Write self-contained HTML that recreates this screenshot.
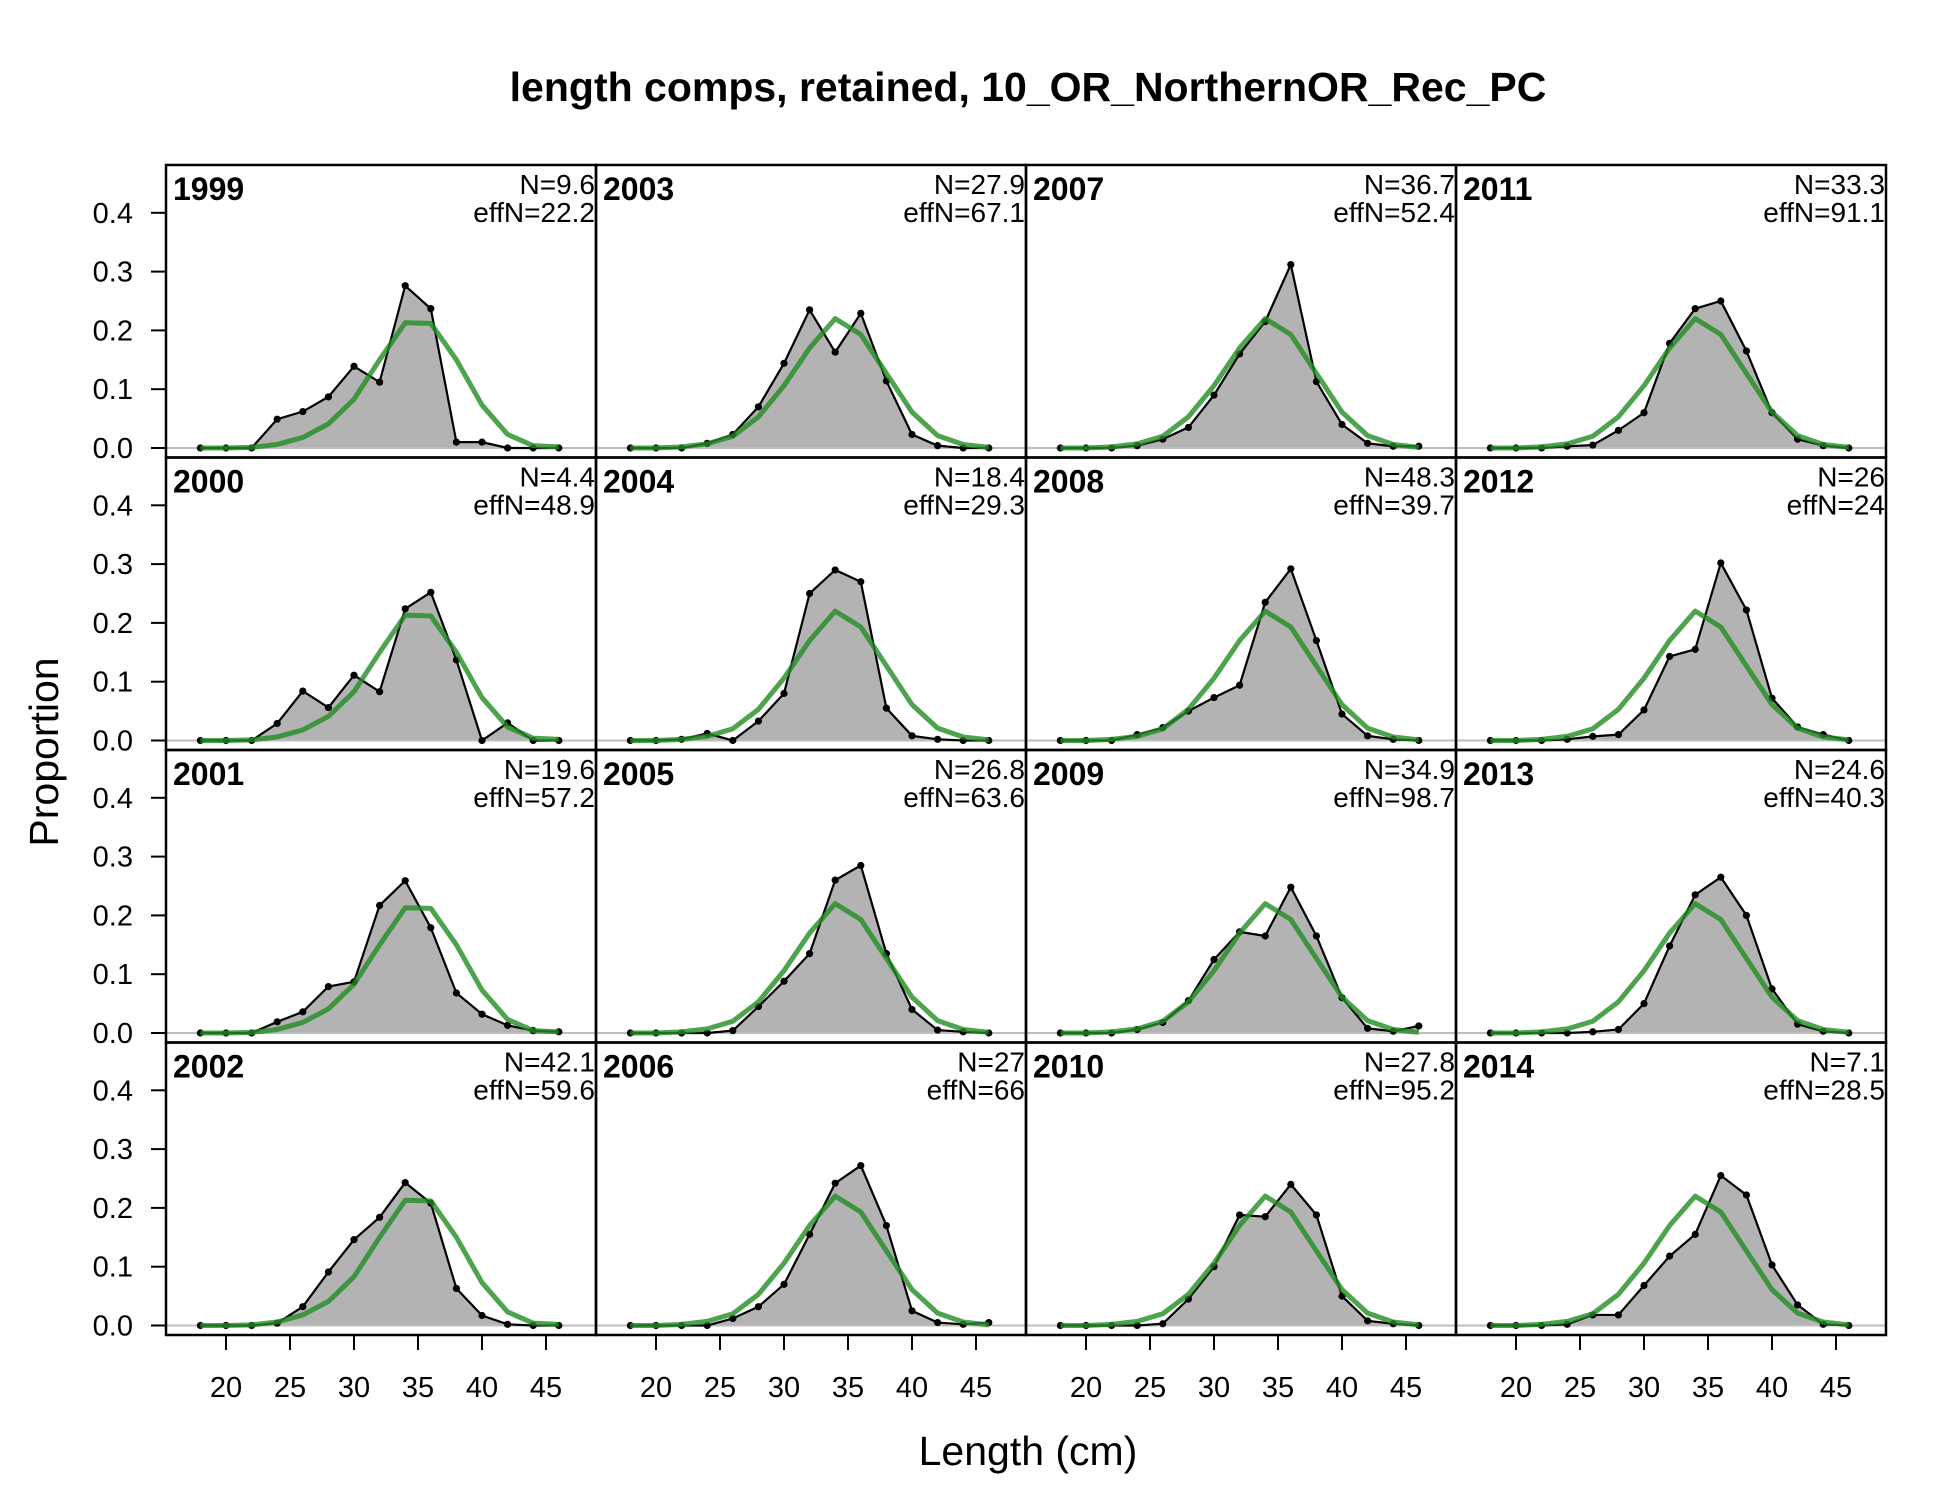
<!DOCTYPE html>
<html><head><meta charset="utf-8"><style>
body{margin:0;background:#fff}
svg text{font-family:"Liberation Sans",Arial,sans-serif}
</style></head><body>
<svg id="chart" width="1950" height="1500" viewBox="0 0 1950 1500" xmlns="http://www.w3.org/2000/svg">
<rect width="1950" height="1500" fill="#fff"/>
<text x="1028" y="101" text-anchor="middle" font-size="41" font-weight="bold">length comps, retained, 10_OR_NorthernOR_Rec_PC</text>
<text x="1028" y="1465" text-anchor="middle" font-size="41">Length (cm)</text>
<text transform="translate(58,752) rotate(-90)" text-anchor="middle" font-size="41">Proportion</text>
<g id="panels"></g>
</svg>
<script>
const bins = [18,20,22,24,26,28,30,32,34,36,38,40,42,44,46];
const years = [1999,2000,2001,2002,2003,2004,2005,2006,2007,2008,2009,2010,2011,2012,2013,2014];
const nLabels = ["9.6","4.4","19.6","42.1","27.9","18.4","26.8","27","36.7","48.3","34.9","27.8","33.3","26","24.6","7.1"];
const effNLabels = ["22.2","48.9","57.2","59.6","67.1","29.3","63.6","66","52.4","39.7","98.7","95.2","91.1","24","40.3","28.5"];
const yTicks = [0,0.1,0.2,0.3,0.4];
const xTicks = [20,25,30,35,40,45];
const expEarly = [0,0,0.001,0.006,0.018,0.041,0.083,0.15,0.213,0.212,0.15,0.073,0.023,0.004,0.002];
const expLate = [0,0,0.002,0.007,0.02,0.053,0.106,0.17,0.22,0.193,0.127,0.061,0.021,0.006,0.001];
const obs1999 = [0,0,0,0.049,0.062,0.087,0.139,0.112,0.276,0.237,0.01,0.01,0,0,0];
const obs2000 = [0,0,0,0.029,0.084,0.056,0.111,0.083,0.224,0.252,0.137,0,0.03,0,0];
const obs2001 = [0,0,0,0.019,0.036,0.079,0.087,0.217,0.259,0.179,0.068,0.032,0.013,0.004,0.002];
const obs2002 = [0,0,0,0.004,0.032,0.091,0.146,0.184,0.243,0.208,0.063,0.017,0.002,0,0];
const obs2003 = [0,0,0,0.008,0.023,0.07,0.144,0.235,0.163,0.229,0.114,0.023,0.004,0,0];
const obs2004 = [0,0,0.002,0.012,0,0.033,0.08,0.25,0.29,0.27,0.055,0.008,0.002,0,0];
const obs2005 = [0,0,0,0,0.004,0.045,0.088,0.135,0.26,0.285,0.135,0.04,0.005,0.002,0];
const obs2006 = [0,0,0,0,0.012,0.032,0.07,0.155,0.242,0.272,0.17,0.025,0.005,0.002,0.005];
const obs2007 = [0,0,0,0.004,0.015,0.035,0.09,0.16,0.215,0.312,0.113,0.04,0.008,0.003,0.003];
const obs2008 = [0,0,0,0.01,0.022,0.05,0.073,0.094,0.235,0.292,0.17,0.045,0.008,0.002,0];
const obs2009 = [0,0,0,0.006,0.018,0.055,0.125,0.172,0.165,0.248,0.165,0.06,0.008,0.003,0.012];
const obs2010 = [0,0,0,0,0.003,0.045,0.1,0.188,0.185,0.24,0.188,0.05,0.008,0.003,0];
const obs2011 = [0,0,0,0.003,0.005,0.03,0.06,0.178,0.237,0.25,0.165,0.06,0.015,0.004,0];
const obs2012 = [0,0,0,0.002,0.007,0.01,0.052,0.143,0.155,0.302,0.222,0.072,0.023,0.01,0];
const obs2013 = [0,0,0,0,0.002,0.006,0.05,0.148,0.235,0.265,0.2,0.075,0.015,0.003,0];
const obs2014 = [0,0,0,0.002,0.018,0.018,0.068,0.118,0.155,0.255,0.222,0.103,0.035,0.002,0];
const observed = [obs1999,obs2000,obs2001,obs2002,obs2003,obs2004,obs2005,obs2006,obs2007,obs2008,obs2009,obs2010,obs2011,obs2012,obs2013,obs2014];
const expected = [expEarly,expEarly,expEarly,expEarly,expLate,expLate,expLate,expLate,expLate,expLate,expLate,expLate,expLate,expLate,expLate,expLate];

const NS="http://www.w3.org/2000/svg";
const L=166,T=165,PW=430,PH=292.5;
function mk(tag,attrs,parent){const e=document.createElementNS(NS,tag);for(const k in attrs)e.setAttribute(k,attrs[k]);parent.appendChild(e);return e;}
function xs(v){return 60+(v-20)*12.8;}
function ys(v){return 283-v*588;}
const root=document.getElementById('panels');
years.forEach((yr,i)=>{
  const col=Math.floor(i/4),row=i%4;
  const px=L+col*PW,py=T+row*PH;
  const g=mk('g',{transform:`translate(${px},${py})`},root);
  
  
  const ob=observed[i],ex=expected[i];
  let d=`M${xs(bins[0])},${ys(0)}`;
  bins.forEach((b,j)=>{d+=` L${xs(b)},${ys(ob[j])}`;});
  d+=` L${xs(bins[bins.length-1])},${ys(0)} Z`;
  const area=mk('path',{d:d,fill:'#b3b3b3',stroke:'none'},g);
  
  
  const zl=mk('line',{x1:0,x2:PW,y1:ys(0),y2:ys(0),stroke:'#bdbdbd','stroke-width':2},g);
  
  
  const op=mk('polyline',{points:bins.map((b,j)=>xs(b)+','+ys(ob[j])).join(' '),fill:'none',stroke:'#000','stroke-width':2.2},g);
  
  
  bins.forEach((b,j)=>{
    const c=mk('circle',{cx:xs(b),cy:ys(ob[j]),r:3.6,fill:'#000'},g);
    
    
  });
  const ep=mk('polyline',{points:bins.map((b,j)=>xs(b)+','+ys(ex[j])).join(' '),fill:'none',stroke:'rgba(34,140,34,0.8)','stroke-width':5,'stroke-linejoin':'round'},g);
  
  
  const fr=mk('rect',{x:0,y:0,width:PW,height:PH,fill:'none',stroke:'#000','stroke-width':2.5},g);
  
  
  const yl=mk('text',{x:7,y:35,'font-size':32,'font-weight':'bold'},g);
  yl.textContent=yr;
  
  
  const nt=mk('text',{x:PW-1,y:29,'font-size':28,'text-anchor':'end'},g);
  nt.textContent='N='+nLabels[i];
  
  
  const et=mk('text',{x:PW-1,y:57,'font-size':28,'text-anchor':'end'},g);
  et.textContent='effN='+effNLabels[i];
  
  
  if(col===0){
    yTicks.forEach(t=>{
      const tl=mk('line',{x1:-15,x2:0,y1:ys(t),y2:ys(t),stroke:'#000','stroke-width':2},g);
      
      
      const tt=mk('text',{x:-33,y:ys(t)+10,'font-size':29,'text-anchor':'end'},g);
      tt.textContent=t.toFixed(1);
      
      
    });
  }
  if(row===3){
    xTicks.forEach(t=>{
      const tl=mk('line',{x1:xs(t),x2:xs(t),y1:PH,y2:PH+15,stroke:'#000','stroke-width':2},g);
      
      
      const tt=mk('text',{x:xs(t),y:PH+62,'font-size':29,'text-anchor':'middle'},g);
      tt.textContent=t;
      
      
    });
  }
});
</script>
</body></html>
